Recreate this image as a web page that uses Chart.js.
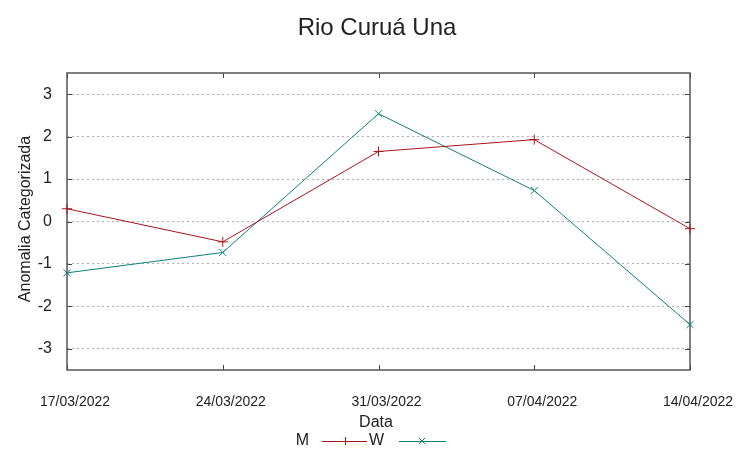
<!DOCTYPE html>
<html>
<head>
<meta charset="utf-8">
<script src="https://cdn.jsdelivr.net/npm/chart.js@4/dist/chart.umd.min.js"></script>
<style>
  html, body { margin: 0; padding: 0; background: #fff; }
</style>
</head>
<body>
<canvas id="grafico" width="752" height="459"></canvas>
<script>
// datos
const datas = ['17/03/2022', '24/03/2022', '31/03/2022', '07/04/2022', '14/04/2022'];
const serieM = [0.30, -0.48, 1.65, 1.93, -0.17];
const serieW = [-1.21, -0.73, 2.54, 0.73, -2.43];
const yTicks = [-3, -2, -1, 0, 1, 2, 3];

const corM = '#a8141c';
const corW = '#0b7f80';
const fonte = '"Liberation Sans", Arial, sans-serif';

// moldura, marcas internas, titulos e legenda estilo gnuplot
const estiloGnuplot = {
	id: 'estiloGnuplot',
	beforeDatasetsDraw(chart) {
		const { ctx, chartArea: a, scales } = chart;
		ctx.save();
		ctx.strokeStyle = '#444';
		ctx.lineWidth = 1;
		ctx.beginPath();
		yTicks.forEach(v => {
			const y = Math.round(scales.y.getPixelForValue(v)) + 0.5;
			ctx.moveTo(a.left, y); ctx.lineTo(a.left + 5, y);
			ctx.moveTo(a.right, y); ctx.lineTo(a.right - 5, y);
		});
		datas.forEach((d, i) => {
			const x = Math.round(scales.x.getPixelForValue(i)) + 0.5;
			ctx.moveTo(x, a.bottom); ctx.lineTo(x, a.bottom - 5);
			ctx.moveTo(x, a.top); ctx.lineTo(x, a.top + 5);
		});
		ctx.stroke();
		ctx.strokeStyle = '#555';
		ctx.lineWidth = 1.5;
		ctx.strokeRect(a.left, a.top, a.right - a.left, a.bottom - a.top);
		ctx.restore();
	},
	afterDraw(chart) {
		const { ctx } = chart;
		ctx.save();
		ctx.fillStyle = '#222';
		ctx.textAlign = 'center';
		ctx.textBaseline = 'middle';
		ctx.font = '24px ' + fonte;
		ctx.fillText('Rio Curuá Una', 377, 28);
		ctx.font = '16px ' + fonte;
		ctx.fillText('Data', 376, 423);
		ctx.save();
		ctx.translate(26, 219);
		ctx.rotate(-Math.PI / 2);
		ctx.fillText('Anomalia Categorizada', 0, 0);
		ctx.restore();

		// legenda
		const yl = 441;
		ctx.textAlign = 'right';
		ctx.fillText('M', 309, yl);
		ctx.fillText('W', 384, yl);
		ctx.lineWidth = 1;
		ctx.strokeStyle = corM;
		ctx.beginPath();
		ctx.moveTo(322, yl + 0.5); ctx.lineTo(367, yl + 0.5);
		ctx.moveTo(345.5, yl - 4); ctx.lineTo(345.5, yl + 4);
		ctx.stroke();
		ctx.strokeStyle = corW;
		ctx.beginPath();
		ctx.moveTo(399, yl + 0.5); ctx.lineTo(446, yl + 0.5);
		ctx.moveTo(419, yl - 3); ctx.lineTo(425, yl + 3);
		ctx.moveTo(425, yl - 3); ctx.lineTo(419, yl + 3);
		ctx.stroke();
		ctx.restore();
	}
};

new Chart(document.getElementById('grafico'), {
	type: 'line',
	data: {
		labels: datas,
		datasets: [
			{
				label: 'M',
				data: serieM,
				borderColor: corM,
				backgroundColor: corM,
				borderWidth: 1,
				pointStyle: 'cross',
				pointRadius: 5,
				pointBorderWidth: 1,
				tension: 0,
				clip: false
			},
			{
				label: 'W',
				data: serieW,
				borderColor: corW,
				backgroundColor: corW,
				borderWidth: 1,
				pointStyle: 'crossRot',
				pointRadius: 5,
				pointBorderWidth: 1,
				tension: 0,
				clip: false
			}
		]
	},
	options: {
		responsive: false,
		animation: false,
		devicePixelRatio: 1,
		layout: { padding: { top: 73, right: 62, bottom: 44, left: 0 } },
		plugins: {
			legend: { display: false },
			title: { display: false },
			tooltip: { enabled: false }
		},
		scales: {
			x: {
				type: 'category',
				offset: false,
				grid: { display: false, drawTicks: false },
				border: { display: false },
				ticks: {
					color: '#222',
					font: { family: fonte, size: 14 },
					padding: 24,
					labelOffset: 8,
					maxRotation: 0,
					autoSkip: false
				},
				afterFit(scale) { scale.height = 45; }
			},
			y: {
				min: -3.5,
				max: 3.5,
				grid: {
					color: '#b0b0b0',
					lineWidth: 1,
					drawTicks: false
				},
				border: { display: false, dash: [2, 3] },
				ticks: {
					stepSize: 1,
					color: '#222',
					font: { family: fonte, size: 16 },
					padding: 15
				},
				afterBuildTicks(scale) {
					scale.ticks = yTicks.map(v => ({ value: v }));
				},
				afterFit(scale) { scale.width = 67; }
			}
		}
	},
	plugins: [estiloGnuplot]
});
</script>
</body>
</html>
